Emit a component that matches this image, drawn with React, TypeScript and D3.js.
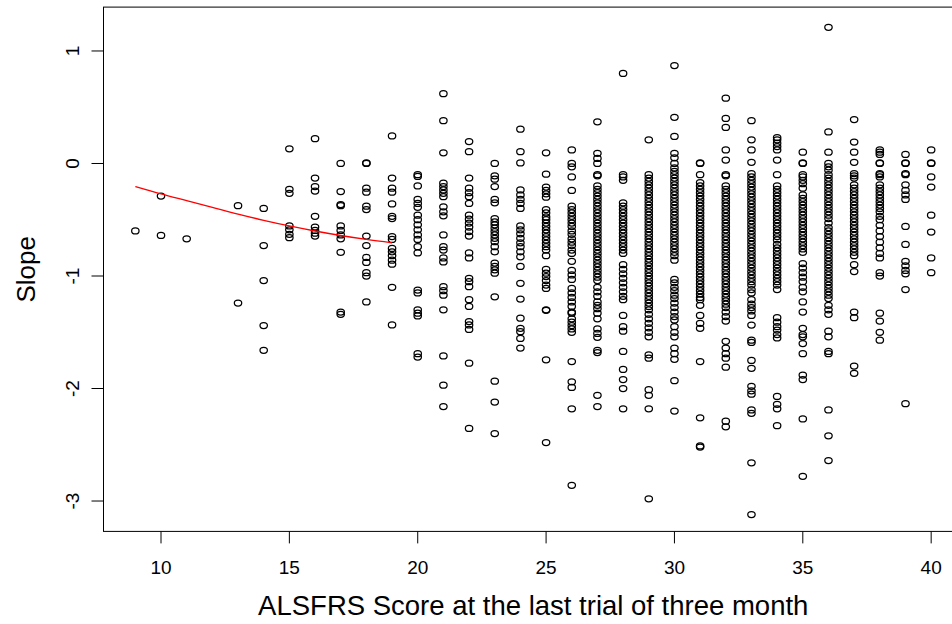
import React from "react";
import * as d3 from "d3";

// ALSFRS score (x) and per-patient slope (y), grouped by score
const scoreGroups: number[] = [9, 10, 11, 13, 14, 15, 16, 17, 18, 19, 20, 21, 22, 23, 24, 25, 26, 27, 28, 29, 30, 31, 32, 33, 34, 35, 36, 37, 38, 39, 40];

const slopeGroups: number[][] = [
  [-0.6],
  [-0.29, -0.64],
  [-0.67],
  [-0.375, -1.24],
  [-0.4, -0.73, -1.04, -1.44, -1.66],
  [0.13, -0.23, -0.265, -0.555, -0.59, -0.63, -0.66],
  [0.22, -0.13, -0.205, -0.245, -0.47, -0.565, -0.595, -0.62, -0.645],
  [0.0, -0.25, -0.365, -0.375, -0.555, -0.595, -0.635, -0.67, -0.79, -1.32, -1.34],
  [0.0, 0.005, -0.22, -0.255, -0.38, -0.41, -0.645, -0.73, -0.835, -0.88, -0.97, -1.0, -1.23],
  [0.245, -0.13, -0.22, -0.255, -0.36, -0.47, -0.49, -0.65, -0.675, -0.755, -0.785, -0.82, -0.86, -0.895, -1.1, -1.435],
  [-0.1, -0.115, -0.2, -0.32, -0.355, -0.39, -0.46, -0.5, -0.545, -0.59, -0.635, -0.675, -0.74, -0.795, -1.125, -1.15, -1.3, -1.33, -1.355, -1.69, -1.72],
  [0.62, 0.38, 0.095, -0.175, -0.205, -0.235, -0.265, -0.295, -0.385, -0.43, -0.465, -0.635, -0.74, -0.77, -0.84, -0.875, -1.095, -1.13, -1.17, -1.3, -1.71, -1.97, -2.16],
  [0.195, 0.105, -0.13, -0.22, -0.26, -0.295, -0.355, -0.46, -0.495, -0.53, -0.565, -0.605, -0.645, -0.795, -0.84, -1.02, -1.05, -1.095, -1.21, -1.27, -1.405, -1.435, -1.475, -1.775, -2.355],
  [0.0, -0.11, -0.14, -0.205, -0.32, -0.35, -0.49, -0.52, -0.545, -0.575, -0.605, -0.635, -0.665, -0.695, -0.74, -0.785, -0.885, -0.915, -0.945, -0.975, -1.185, -1.935, -2.12, -2.4],
  [0.305, 0.105, 0.005, -0.235, -0.28, -0.32, -0.355, -0.4, -0.555, -0.59, -0.625, -0.665, -0.705, -0.74, -0.785, -0.83, -0.915, -1.065, -1.205, -1.375, -1.465, -1.495, -1.555, -1.64],
  [0.095, -0.095, -0.21, -0.24, -0.27, -0.3, -0.41, -0.44, -0.475, -0.5, -0.53, -0.56, -0.59, -0.62, -0.65, -0.68, -0.71, -0.74, -0.77, -0.82, -0.94, -0.975, -1.005, -1.04, -1.08, -1.11, -1.3, -1.305, -1.745, -2.48],
  [0.12, 0.0, -0.03, -0.12, -0.24, -0.38, -0.41, -0.44, -0.47, -0.5, -0.53, -0.56, -0.6, -0.63, -0.67, -0.7, -0.73, -0.77, -0.8, -0.87, -0.95, -0.99, -1.03, -1.11, -1.15, -1.19, -1.23, -1.27, -1.32, -1.33, -1.38, -1.41, -1.44, -1.47, -1.5, -1.76, -1.94, -1.99, -2.18, -2.86],
  [0.37, 0.09, 0.045, 0.0, -0.1, -0.11, -0.2, -0.23, -0.26, -0.29, -0.32, -0.35, -0.38, -0.41, -0.44, -0.47, -0.5, -0.53, -0.56, -0.59, -0.62, -0.65, -0.68, -0.71, -0.74, -0.77, -0.8, -0.83, -0.86, -0.89, -0.92, -0.95, -0.98, -1.01, -1.04, -1.1, -1.14, -1.18, -1.23, -1.26, -1.29, -1.33, -1.38, -1.47, -1.51, -1.545, -1.66, -1.68, -2.06, -2.16],
  [0.8, -0.1, -0.12, -0.15, -0.35, -0.38, -0.41, -0.44, -0.47, -0.5, -0.53, -0.56, -0.59, -0.62, -0.65, -0.68, -0.71, -0.74, -0.77, -0.8, -0.9, -0.94, -0.98, -1.02, -1.06, -1.1, -1.14, -1.18, -1.21, -1.35, -1.45, -1.49, -1.67, -1.83, -1.92, -2.0, -2.18],
  [0.21, -0.1, -0.13, -0.16, -0.19, -0.22, -0.25, -0.28, -0.31, -0.34, -0.37, -0.4, -0.43, -0.46, -0.49, -0.52, -0.55, -0.58, -0.61, -0.64, -0.67, -0.7, -0.73, -0.76, -0.79, -0.82, -0.85, -0.88, -0.91, -0.94, -0.97, -1.0, -1.03, -1.06, -1.09, -1.12, -1.15, -1.18, -1.21, -1.24, -1.27, -1.3, -1.34, -1.38, -1.42, -1.46, -1.5, -1.54, -1.7, -1.73, -2.01, -2.06, -2.18, -2.98],
  [0.87, 0.41, 0.24, 0.09, 0.05, 0.0, -0.04, -0.07, -0.1, -0.13, -0.16, -0.19, -0.22, -0.25, -0.28, -0.31, -0.34, -0.37, -0.4, -0.43, -0.46, -0.49, -0.52, -0.55, -0.58, -0.61, -0.64, -0.67, -0.7, -0.73, -0.76, -0.79, -0.82, -0.86, -1.03, -1.06, -1.1, -1.13, -1.17, -1.2, -1.24, -1.28, -1.32, -1.36, -1.39, -1.45, -1.5, -1.54, -1.64, -1.69, -1.74, -1.93, -2.2],
  [0.0, 0.005, -0.1, -0.17, -0.2, -0.23, -0.26, -0.29, -0.32, -0.35, -0.38, -0.41, -0.44, -0.47, -0.5, -0.53, -0.56, -0.59, -0.62, -0.65, -0.68, -0.71, -0.74, -0.77, -0.8, -0.83, -0.86, -0.89, -0.92, -0.95, -0.98, -1.01, -1.04, -1.07, -1.1, -1.13, -1.16, -1.19, -1.21, -1.26, -1.35, -1.42, -1.465, -1.76, -2.26, -2.51, -2.52],
  [0.58, 0.4, 0.32, 0.12, 0.03, -0.1, -0.11, -0.2, -0.23, -0.26, -0.29, -0.32, -0.35, -0.38, -0.41, -0.44, -0.47, -0.5, -0.53, -0.56, -0.59, -0.62, -0.65, -0.68, -0.71, -0.74, -0.77, -0.8, -0.83, -0.86, -0.89, -0.92, -0.95, -0.98, -1.01, -1.04, -1.07, -1.1, -1.13, -1.16, -1.19, -1.22, -1.25, -1.28, -1.32, -1.36, -1.4, -1.58, -1.64, -1.69, -1.73, -1.81, -2.29, -2.34],
  [0.38, 0.21, 0.12, 0.01, -0.09, -0.12, -0.15, -0.18, -0.21, -0.24, -0.27, -0.3, -0.33, -0.36, -0.39, -0.42, -0.45, -0.48, -0.51, -0.54, -0.57, -0.6, -0.63, -0.66, -0.69, -0.72, -0.75, -0.78, -0.81, -0.84, -0.87, -0.9, -0.93, -0.96, -0.99, -1.02, -1.05, -1.08, -1.12, -1.15, -1.21, -1.25, -1.28, -1.31, -1.35, -1.436, -1.57, -1.59, -1.75, -1.82, -1.98, -2.02, -2.05, -2.19, -2.22, -2.66, -3.12],
  [0.23, 0.21, 0.18, 0.15, 0.12, 0.03, -0.1, -0.2, -0.23, -0.26, -0.29, -0.32, -0.35, -0.38, -0.41, -0.44, -0.47, -0.5, -0.53, -0.56, -0.59, -0.62, -0.65, -0.68, -0.72, -0.75, -0.78, -0.81, -0.84, -0.87, -0.9, -0.93, -0.96, -0.99, -1.02, -1.05, -1.08, -1.12, -1.37, -1.41, -1.45, -1.48, -1.52, -1.55, -2.07, -2.14, -2.18, -2.33],
  [0.1, 0.0, 0.005, -0.1, -0.12, -0.15, -0.18, -0.22, -0.28, -0.31, -0.34, -0.37, -0.4, -0.43, -0.46, -0.49, -0.52, -0.55, -0.58, -0.61, -0.64, -0.67, -0.7, -0.73, -0.76, -0.79, -0.89, -0.93, -0.97, -1.01, -1.05, -1.1, -1.14, -1.23, -1.32, -1.465, -1.52, -1.54, -1.6, -1.69, -1.88, -1.92, -2.27, -2.78],
  [1.21, 0.28, 0.1, 0.0, -0.03, -0.06, -0.1, -0.13, -0.16, -0.19, -0.22, -0.25, -0.28, -0.31, -0.34, -0.37, -0.4, -0.43, -0.46, -0.49, -0.53, -0.57, -0.6, -0.63, -0.66, -0.69, -0.72, -0.75, -0.78, -0.81, -0.84, -0.87, -0.9, -0.93, -0.96, -0.99, -1.02, -1.05, -1.08, -1.11, -1.14, -1.17, -1.2, -1.26, -1.3, -1.34, -1.49, -1.54, -1.67, -1.69, -2.19, -2.42, -2.64],
  [0.39, 0.19, 0.1, 0.01, -0.09, -0.11, -0.13, -0.19, -0.22, -0.25, -0.28, -0.31, -0.34, -0.37, -0.4, -0.43, -0.46, -0.49, -0.52, -0.55, -0.58, -0.61, -0.64, -0.67, -0.7, -0.73, -0.76, -0.79, -0.82, -0.9, -0.96, -1.32, -1.37, -1.8, -1.865],
  [0.12, 0.1, 0.08, 0.0, 0.005, -0.09, -0.1, -0.12, -0.19, -0.22, -0.25, -0.28, -0.31, -0.34, -0.37, -0.4, -0.43, -0.47, -0.5, -0.55, -0.6, -0.65, -0.7, -0.75, -0.8, -0.84, -0.97, -1.0, -1.33, -1.4, -1.5, -1.57],
  [0.08, 0.0, 0.005, -0.09, -0.1, -0.19, -0.24, -0.28, -0.32, -0.56, -0.72, -0.87, -0.91, -0.95, -0.98, -1.12, -2.135],
  [0.12, 0.0, 0.005, -0.12, -0.21, -0.46, -0.61, -0.84, -0.97],
];

// Smoothed trend over the low-score range
const trendScores: number[] = [9, 10, 11, 12, 13, 14, 15, 16, 17, 18, 19];
const trendSlopes: number[] = [-0.205, -0.27, -0.33, -0.39, -0.45, -0.505, -0.555, -0.6, -0.64, -0.675, -0.705];

const xTicks: number[] = [10, 15, 20, 25, 30, 35, 40];
const yTicks: number[] = [-3, -2, -1, 0, 1];

const xLabel = "ALSFRS Score at the last trial of three month";
const yLabel = "Slope";

const W = 952;
const H = 624;
const FONT = "'Liberation Sans', Arial, Helvetica, sans-serif";

export default function App() {
  const x = d3.scaleLinear().domain([7.76, 41.24]).range([103.5, 963]);
  const y = d3.scaleLinear().domain([-3.27, 1.39]).range([531.4, 7.1]);

  const points: { sx: number; sy: number }[] = [];
  scoreGroups.forEach((s, i) => {
    slopeGroups[i].forEach((v) => points.push({ sx: x(s), sy: y(v) }));
  });

  const trend = d3
    .line<number>()
    .x((_, i) => x(trendScores[i]))
    .y((d) => y(d))
    .curve(d3.curveMonotoneX)(trendSlopes);

  const [x0, x1] = x.range();
  const [yb, yt] = y.range();

  return (
    <svg
      width={W}
      height={H}
      viewBox={`0 0 ${W} ${H}`}
      style={{ position: "absolute", left: 0, top: 0, background: "#fff" }}
      fontFamily={FONT}
    >
      <rect x={0} y={0} width={W} height={H} fill="#fff" />
      {/* plot frame */}
      <rect x={x0} y={yt} width={x1 - x0} height={yb - yt} fill="none" stroke="#000" strokeWidth={1} />

      {/* points */}
      <g fill="none" stroke="#000" strokeWidth={1.25}>
        {points.map((p, i) => (
          <ellipse key={i} cx={p.sx} cy={p.sy} rx={3.7} ry={3.0} />
        ))}
      </g>

      {/* trend line */}
      <path d={trend ?? ""} fill="none" stroke="#ff0000" strokeWidth={1.3} />

      {/* x axis */}
      <g>
        {xTicks.map((t) => (
          <g key={t}>
            <line x1={x(t)} x2={x(t)} y1={yb} y2={yb + 12} stroke="#000" />
            <text x={x(t)} y={567} fontSize={19} textAnchor="middle" dominantBaseline="central">
              {t}
            </text>
          </g>
        ))}
        <text x={(x0 + x1) / 2} y={605} fontSize={27.5} textAnchor="middle" dominantBaseline="central">
          {xLabel}
        </text>
      </g>

      {/* y axis */}
      <g>
        {yTicks.map((t) => (
          <g key={t}>
            <line x1={x0 - 12} x2={x0} y1={y(t)} y2={y(t)} stroke="#000" />
            <text
              transform={`translate(72,${y(t)}) rotate(-90)`}
              fontSize={19}
              textAnchor="middle"
              dominantBaseline="central"
            >
              {t}
            </text>
          </g>
        ))}
        <text
          transform={`translate(26,${(yt + yb) / 2}) rotate(-90)`}
          fontSize={26}
          textAnchor="middle"
          dominantBaseline="central"
        >
          {yLabel}
        </text>
      </g>
    </svg>
  );
}
